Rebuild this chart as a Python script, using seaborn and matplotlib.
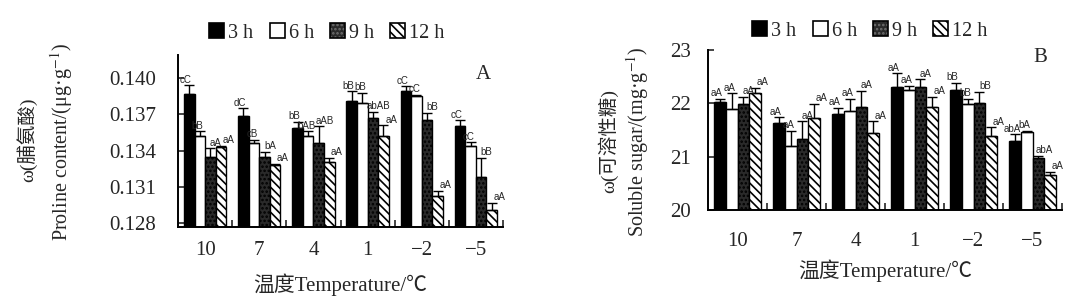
import numpy as np
import pandas as pd
import matplotlib
matplotlib.use("Agg")
import matplotlib.pyplot as plt
import seaborn as sns
from matplotlib.ticker import FixedLocator
from matplotlib.patches import Patch

# ---------------- data ----------------
temps = ["10", "7", "4", "1", "\u22122", "\u22125"]
times = ["3 h", "6 h", "9 h", "12 h"]

# Panel A: proline content (µg/g)
pro_3h = [0.1387, 0.1369, 0.1359, 0.1381, 0.1389, 0.1360]
pro_6h = [0.1352, 0.1346, 0.1352, 0.1379, 0.1385, 0.1344]
pro_9h = [0.1335, 0.1335, 0.1346, 0.1367, 0.1365, 0.1318]
pro_12h = [0.1343, 0.1328, 0.1331, 0.1352, 0.1303, 0.1291]
pro_err_3h = [0.0007, 0.0006, 0.0005, 0.0008, 0.0004, 0.0005]
pro_err_6h = [0.0004, 0.0003, 0.0004, 0.0009, 0.0001, 0.0003]
pro_err_9h = [0.0007, 0.0004, 0.0014, 0.0005, 0.0006, 0.0016]
pro_err_12h = [0.0001, 0.0001, 0.0003, 0.0009, 0.0004, 0.0006]
pro_sig_3h = ["cC", "dC", "bB", "bB", "cC", "cC"]
pro_sig_6h = ["bB", "cB", "bAB", "bB", "cC", "cC"]
pro_sig_9h = ["aA", "bA", "aAB", "abAB", "bB", "bB"]
pro_sig_12h = ["aA", "aA", "aA", "aA", "aA", "aA"]

# Panel B: soluble sugar (mg/g)
sug_3h = [22.02, 21.63, 21.80, 22.31, 22.25, 21.30]
sug_6h = [21.89, 21.20, 21.86, 22.25, 21.99, 21.47]
sug_9h = [21.99, 21.33, 21.94, 22.30, 22.00, 20.97]
sug_12h = [22.20, 21.72, 21.45, 21.94, 21.39, 20.66]
sug_err_3h = [0.06, 0.11, 0.12, 0.25, 0.14, 0.12]
sug_err_6h = [0.30, 0.29, 0.22, 0.08, 0.10, 0.01]
sug_err_9h = [0.13, 0.33, 0.29, 0.15, 0.21, 0.04]
sug_err_12h = [0.09, 0.27, 0.21, 0.18, 0.16, 0.05]
sug_sig_3h = ["aA", "aA", "aA", "aA", "bB", "abA"]
sug_sig_6h = ["aA", "aA", "aA", "aA", "bB", "bA"]
sug_sig_9h = ["aA", "aA", "aA", "aA", "bB", "abA"]
sug_sig_12h = ["aA", "aA", "aA", "aA", "aA", "aA"]

# ---------------- style ----------------
sns.set_theme(style="ticks")
SERIF = ["Liberation Serif", "Noto Sans CJK SC", "DejaVu Sans"]
plt.rcParams["font.family"] = SERIF
plt.rcParams["mathtext.fontset"] = "stix"
plt.rcParams["hatch.linewidth"] = 1.2

face = {"3 h": "black", "6 h": "white", "9 h": "#2a2a2a", "12 h": "white"}
hatches = {"3 h": "", "6 h": "", "9 h": "....", "12 h": "\\\\\\\\"}
hatch_col = {"3 h": "black", "6 h": "black", "9 h": "#707070", "12 h": "black"}
SIGFONT = ["Liberation Sans", "DejaVu Sans"]
SIG_DX = [-2.5, -1.5, 4.0, 5.5]


def make_df(vals, errs, sigs):
    rows = []
    for t, v, e, s in zip(times, vals, errs, sigs):
        for c, vv, ee, ss in zip(temps, v, e, s):
            rows.append({"temp": c, "time": t, "value": vv, "err": ee, "sig": ss})
    return pd.DataFrame(rows)


def draw(ax, df, ylim, yticks, yfmt, ypad, xpad):
    sns.barplot(data=df, x="temp", y="value", hue="time", order=temps,
                hue_order=times, palette=face, errorbar=None, width=0.78,
                edgecolor="black", linewidth=1.0, legend=False, ax=ax)
    ax.set_ylim(*ylim)
    ax.set_xlim(-0.5, 5.5)
    for k, (t, cont) in enumerate(zip(times, ax.containers)):
        sub = df[df["time"] == t].set_index("temp").loc[temps]
        for bar, (_, r) in zip(cont.patches, sub.iterrows()):
            bar.set_hatch(hatches[t])
            bar._hatch_color = matplotlib.colors.to_rgba(hatch_col[t])
            bar.set_edgecolor("black")
            xc = bar.get_x() + bar.get_width() / 2
            ax.errorbar(xc, r["value"], yerr=[[0], [r["err"]]], fmt="none",
                        ecolor="black", elinewidth=1.0, capsize=3.6,
                        capthick=1.0, zorder=5)
            ax.annotate(r["sig"], (xc, r["value"] + r["err"]),
                        xytext=(SIG_DX[k], 0.5),
                        textcoords="offset points",
                        ha="center", va="bottom", fontsize=7,
                        family=SIGFONT, zorder=6)
    ax.set_yticks(yticks)
    ax.set_yticklabels([yfmt.format(v) for v in yticks])
    ax.xaxis.set_minor_locator(FixedLocator(np.arange(0.5, 6.0, 1.0)))
    ax.tick_params(axis="x", which="major", length=0, pad=xpad, labelsize=15)
    ax.tick_params(axis="x", which="minor", direction="in", length=5, width=1.2)
    ax.tick_params(axis="y", direction="in", length=4, width=1.2, pad=ypad,
                   labelsize=15)
    for s in ["top", "right"]:
        ax.spines[s].set_visible(False)
    for s in ["left", "bottom"]:
        ax.spines[s].set_linewidth(1.4)
        ax.spines[s].set_color("black")
    ax.set_ylabel("")
    ax.set_xlabel("")


fig = plt.figure(figsize=(10.8, 3.08), dpi=100)
W, H = 1080, 308
axA = fig.add_axes([178 / W, 1 - 227 / H, (503 - 178) / W, (227 - 55) / H])
axB = fig.add_axes([708 / W, 1 - 210 / H, (1062 - 708) / W, (210 - 50) / H])

dfA = make_df([pro_3h, pro_6h, pro_9h, pro_12h],
              [pro_err_3h, pro_err_6h, pro_err_9h, pro_err_12h],
              [pro_sig_3h, pro_sig_6h, pro_sig_9h, pro_sig_12h])
dfB = make_df([sug_3h, sug_6h, sug_9h, sug_12h],
              [sug_err_3h, sug_err_6h, sug_err_9h, sug_err_12h],
              [sug_sig_3h, sug_sig_6h, sug_sig_9h, sug_sig_12h])

draw(axA, dfA, (0.1277, 0.1419), [0.128, 0.131, 0.134, 0.137, 0.140],
     "{:.3f}", 16, 10)
draw(axB, dfB, (20, 23), [20, 21, 22, 23], "{:.0f}", 12, 16)

axA.set_xlabel("温度Temperature/\u2103", fontsize=15, labelpad=10)
axB.set_xlabel("温度Temperature/\u2103", fontsize=15, labelpad=6)

# panel letters
axA.text(0.94, 0.885, "A", transform=axA.transAxes, fontsize=15,
         ha="center", va="center")
axB.text(0.94, 0.955, "B", transform=axB.transAxes, fontsize=15,
         ha="center", va="center")

# y labels (two lines)
fig.text(27 / W, 1 - 140 / H, "\u03c9(脯氨酸)", rotation=90, fontsize=14,
         ha="center", va="center")
fig.text(62 / W, 1 - 142 / H, "Proline content/(\u03bcg\u00b7g$^{-1}$)",
         rotation=90, fontsize=14.5, ha="center", va="center")
fig.text(608 / W, 1 - 141 / H, "\u03c9(可溶性糖)", rotation=90, fontsize=14,
         ha="center", va="center")
fig.text(638 / W, 1 - 142 / H, "Soluble sugar/(mg\u00b7g$^{-1}$)",
         rotation=90, fontsize=14.5, ha="center", va="center")

# legends
handles = [Patch(facecolor=face[t], edgecolor="black", hatch=hatches[t],
                 linewidth=1.2) for t in times]
for h, t in zip(handles, times):
    h._hatch_color = matplotlib.colors.to_rgba(hatch_col[t])
for cx, cy in [(327 / W, 1 - 33 / H), (870 / W, 1 - 31 / H)]:
    fig.legend(handles, times, loc="center", bbox_to_anchor=(cx, cy), ncol=4,
               frameon=False, fontsize=14.5, handlelength=0.75,
               handleheight=0.75, handletextpad=0.2, columnspacing=0.8,
               borderpad=0)

fig.savefig("out.png", dpi=100)
